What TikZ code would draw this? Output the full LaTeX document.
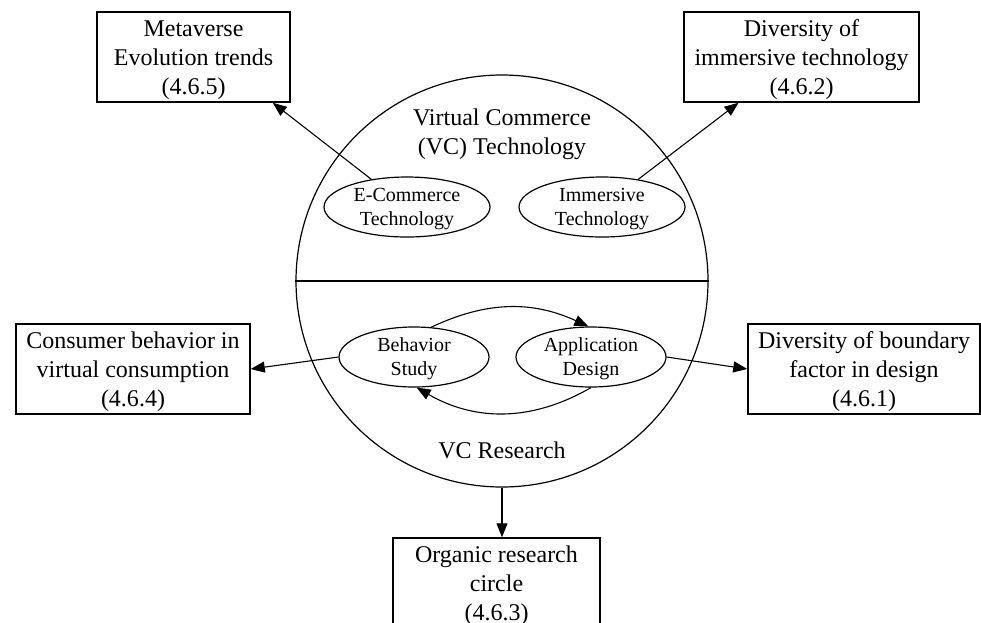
\documentclass[tikz,border=0pt]{standalone}
\usepackage{fontspec}
\setmainfont{Liberation Serif}
\usetikzlibrary{shapes.geometric,arrows.meta}
% strut that lowers a three-line box text slightly
\newcommand{\firstln}{\rule{0pt}{22pt}}
\begin{document}
\begin{tikzpicture}[x=1pt,y=-1pt,
  box/.style={draw, line width=1.5pt, rectangle, minimum height=90pt,
    inner sep=0pt, align=center, font=\fontsize{24}{29}\selectfont},
  oval/.style={draw, line width=1.2pt, ellipse, inner sep=0pt,
    minimum width=166pt, minimum height=60pt},
  otext/.style={align=center, font=\fontsize{20}{24}\selectfont, inner sep=0pt},
  ctext/.style={align=center, font=\fontsize{24}{29}\selectfont, inner sep=0pt},
  link/.style={line width=1.1pt, -{Triangle[length=14pt,width=11pt]}},
]
\clip (0,0) rectangle (981,622);

% central circle split into technology (top) and research (bottom)
\node[draw, circle, line width=1.2pt, minimum size=412pt, inner sep=0pt] (circ) at (502,281) {};
\draw[line width=1.2pt] (circ.west) -- (circ.east);
\node[ctext] (tech) at (502,134) {Virtual Commerce\\(VC) Technology};
\node[ctext] (res) at (502,450) {VC Research};

% inner ovals
\node[oval] (ecom) at (407,207) {};
\node[otext] (ecomt) at (407,209) {E-Commerce\\Technology};
\node[oval] (imm) at (602,207) {};
\node[otext] (immt) at (602,209) {Immersive\\Technology};
\node[oval, minimum width=150pt, minimum height=60pt] (beh) at (414,357) {};
\node[otext] (beht) at (414,359) {Behavior\\Study};
\node[oval, minimum width=150pt, minimum height=60pt] (app) at (591,357) {};
\node[otext] (appt) at (591,359) {Application\\Design};

% outer boxes
\node[box, minimum width=193pt] (meta) at (193.5,57) {\firstln Metaverse\\Evolution trends\\(4.6.5)};
\node[box, minimum width=235pt] (divimm) at (801.5,57) {\firstln Diversity of\\immersive technology\\(4.6.2)};
\node[box, minimum width=234pt] (cons) at (133,369) {\firstln Consumer behavior in\\virtual consumption\\(4.6.4)};
\node[box, minimum width=232pt] (bound) at (864,369) {\firstln Diversity of boundary\\factor in design\\(4.6.1)};
\node[box, minimum width=207pt] (org) at (496.5,583) {\firstln Organic research\\circle\\(4.6.3)};

% connectors
\draw[link] (ecom) -- (meta.-30);
\draw[link] (imm) -- (divimm.-144);
\draw[link] (beh.west) -- (cons.east);
\draw[link] (app.east) -- (bound.west);
\draw[link] (circ.south) -- (circ.south |- org.north);
\draw[link] (beh.60) to[bend left=25] (app.95);
\draw[link] (app.south) to[bend left=30] (beh.-85);
\end{tikzpicture}
\end{document}
